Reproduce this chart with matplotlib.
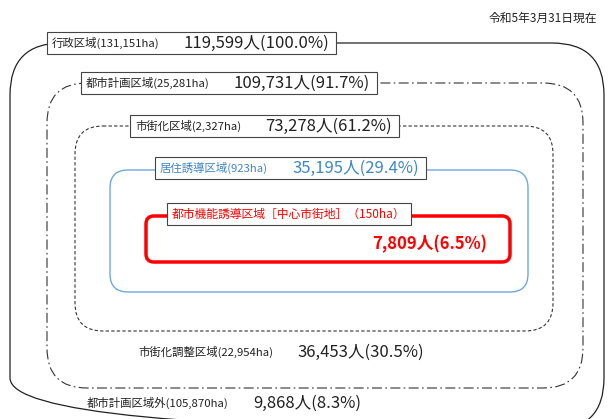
import matplotlib
matplotlib.use('Agg')
import matplotlib.pyplot as plt
from matplotlib.patches import FancyBboxPatch, Rectangle

plt.rcParams['font.family'] = ['Noto Sans CJK JP', 'DejaVu Sans']

# data
areas = ['行政区域', '都市計画区域', '市街化区域', '居住誘導区域', '都市機能誘導区域［中心市街地］',
         '市街化調整区域', '都市計画区域外']
hectares = ['131,151', '25,281', '2,327', '923', '150', '22,954', '105,870']
population = ['119,599', '109,731', '73,278', '35,195', '7,809', '36,453', '9,868']
percent = ['100.0', '91.7', '61.2', '29.4', '6.5', '30.5', '8.3']
date_note = '令和5年3月31日現在'

BLUE = '#3f86c8'
RED = '#ff0000'

fig = plt.figure(figsize=(6.08, 4.19), dpi=100)
ax = fig.add_axes([0, 0, 1, 1])
ax.set_xlim(0, 608)
ax.set_ylim(419, 0)
ax.axis('off')

def rbox(x0, y0, x1, y1, r, **kw):
    p = FancyBboxPatch((x0, y0), x1 - x0, y1 - y0,
                       boxstyle='round,pad=0,rounding_size=%d' % r,
                       facecolor='none', **kw)
    ax.add_patch(p)

# nested areas
rbox(10, 43, 604, 430, 52, edgecolor='#222222', lw=0.9)
rbox(47, 83, 583, 388, 40, edgecolor='#333333', lw=0.8, linestyle=(0, (9, 3, 1.5, 3)))
rbox(75, 126, 553, 331, 28, edgecolor='#333333', lw=0.8, linestyle=(0, (3, 2)))
rbox(110, 170, 528, 292, 18, edgecolor='#6fa8dc', lw=1.0)
rbox(146, 216, 510, 262, 8, edgecolor=RED, lw=2.5)

fig.canvas.draw()
renderer = fig.canvas.get_renderer()
inv = ax.transData.inverted()

def right_edge(t):
    bb = t.get_window_extent(renderer)
    return inv.transform((bb.x1, bb.y0))[0]

def label(i, x, y, small_fs, big_fs, color='#222222', boxed=True):
    t1 = ax.text(x, y, '%s(%sha)' % (areas[i], hectares[i]), fontsize=small_fs,
                 color=color, va='center', ha='left', zorder=5)
    x2 = right_edge(t1) + 24
    t2 = ax.text(x2, y, '%s人(%s%%)' % (population[i], percent[i]), fontsize=big_fs,
                 color=color, va='center', ha='left', zorder=5)
    if boxed:
        xe = right_edge(t2) + 7
        ax.add_patch(Rectangle((x - 5, y - 11), xe - x + 5, 22, facecolor='white',
                               edgecolor='#444444', lw=0.8, zorder=4))

label(0, 52, 43, 8.2, 12)
label(1, 86, 83, 8.2, 12)
label(2, 135, 126, 8.2, 12)
label(3, 160, 168, 8.2, 12, color=BLUE)
label(5, 138, 352, 8.2, 12, boxed=False)
label(6, 87, 403, 8.2, 12, boxed=False)

# 都市機能誘導区域
t = ax.text(172, 214, '%s（%sha）' % (areas[4], hectares[4]), fontsize=8.5,
            color=RED, va='center', ha='left', zorder=5)
xe = right_edge(t) + 5
ax.add_patch(Rectangle((167, 203), xe - 167, 22, facecolor='white',
                       edgecolor='#444444', lw=0.8, zorder=4))
ax.text(487, 244, '%s人(%s%%)' % (population[4], percent[4]), fontsize=12,
        color=RED, va='center', ha='right', fontweight='bold', zorder=5)

ax.text(597, 18, date_note, fontsize=8.5, color='#222222', va='center', ha='right')

fig.savefig('out.png', dpi=100)
